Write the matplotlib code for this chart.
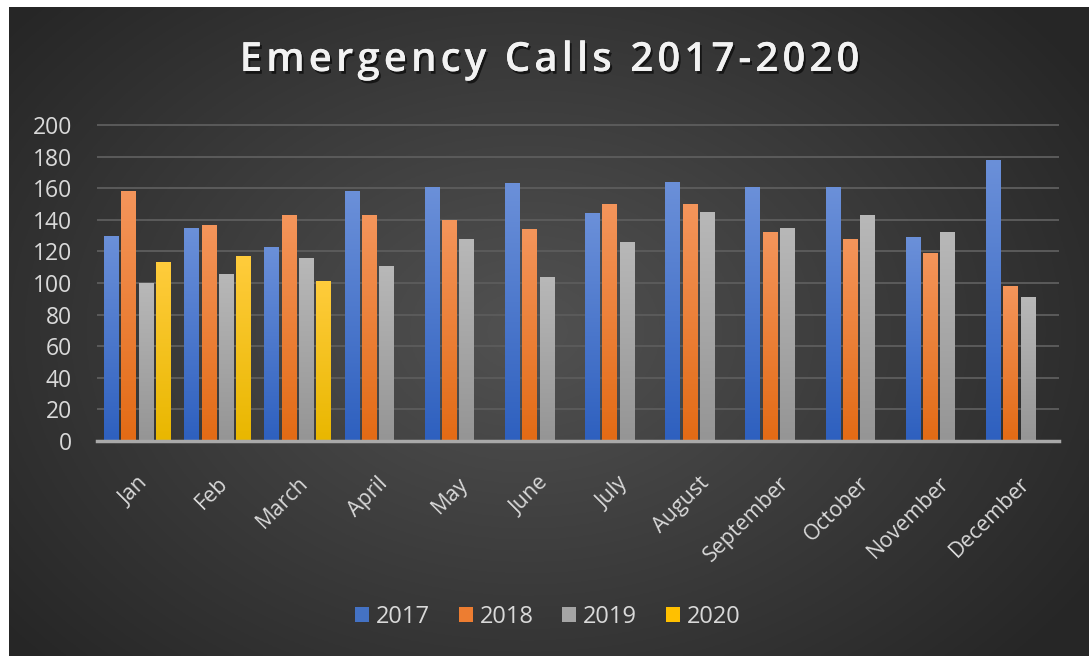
import matplotlib
matplotlib.use("Agg")
import matplotlib.pyplot as plt
import matplotlib.patheffects as pe
from matplotlib.colors import LinearSegmentedColormap
import numpy as np

months = ["Jan", "Feb", "March", "April", "May", "June", "July", "August",
          "September", "October", "November", "December"]
years = ["2017", "2018", "2019", "2020"]
calls_2017 = [130, 135, 123, 158, 161, 163, 144, 164, 161, 161, 129, 178]
calls_2018 = [158, 137, 143, 143, 140, 134, 150, 150, 132, 128, 119, 98]
calls_2019 = [100, 106, 116, 111, 128, 104, 126, 145, 135, 143, 132, 91]
calls_2020 = [113, 117, 101]

# (top colour, bottom colour) of each series gradient
grad = [("#6b90d9", "#2e60bf"),
        ("#f4955b", "#e36b15"),
        ("#b8b8b8", "#959595"),
        ("#ffcc3c", "#e9b700")]
mid = ["#4472c4", "#ed7d31", "#a5a5a5", "#ffc000"]

plt.rcParams['font.family'] = ['Open Sans', 'DejaVu Sans']

W, H = 1089, 656
fig = plt.figure(figsize=(W / 100, H / 100), dpi=100, facecolor="white")

# dark radial background
bg = fig.add_axes([9 / W, 0, 1 - 9 / W, 649 / H])
bg.axis("off")
yy, xx = np.mgrid[0:1:300j, 0:1:500j]
r = np.sqrt(((xx - 0.48) / 0.62) ** 2 + ((yy - 0.5) / 0.75) ** 2)
r = np.clip(r, 0, 1)
shade = 0.32 - 0.17 * r
bg.imshow(np.dstack([shade, shade, shade]), extent=[0, 1, 0, 1], aspect="auto")
bg.set_xlim(0, 1)
bg.set_ylim(0, 1)

ax = fig.add_axes([97 / W, 215 / H, 962 / W, 316 / H])
ax.patch.set_alpha(0)

x = np.arange(len(months))
series = [calls_2017, calls_2018, calls_2019, calls_2020]
bw = 0.175
step = 0.216

yt = np.arange(0, 201, 20)
ax.hlines(yt[1:], -0.5, 11.5, color="#5b5b5b", lw=1.4, zorder=0, clip_on=False)

gy = np.linspace(1, 0, 100).reshape(-1, 1)
for i, vals in enumerate(series):
    xs = x[:len(vals)] + (i - 1.5) * step
    bars = ax.bar(xs, vals, width=bw, color=mid[i], label=years[i], zorder=2)
    cmap = LinearSegmentedColormap.from_list("g%d" % i, [grad[i][1], grad[i][0]])
    for b in bars:
        bx, by = b.get_x(), b.get_y()
        im = ax.imshow(gy, extent=[bx, bx + b.get_width(), by, by + b.get_height()],
                       aspect="auto", cmap=cmap, vmin=0, vmax=1, zorder=3)
        im.set_clip_path(b)

ax.axhline(0, color="#a9a9a9", lw=2.5, zorder=4, clip_on=False)

ax.set_xlim(-0.5, 11.5)
ax.set_ylim(0, 200)
ax.set_aspect("auto")
for s in ax.spines.values():
    s.set_visible(False)

ax.set_yticks(yt)
ax.set_xticks(x)
ax.set_xticklabels(months, rotation=45, ha="right", rotation_mode="anchor")
ax.tick_params(axis="y", length=0, pad=18, labelsize=16.5, labelcolor="#d9d9d9")
ax.tick_params(axis="x", length=0, pad=23, labelsize=15.5, labelcolor="#d9d9d9")

title = "\u200a".join("Emergency Calls 2017-2020")
fig.text(0.504, 0.907, title, ha="center", va="center",
         fontsize=29, fontweight="semibold", color="#f2f2f2",
         path_effects=[pe.withSimplePatchShadow(offset=(1.5, -2), shadow_rgbFace="black", alpha=0.6),
                       pe.Normal()])

leg = fig.legend(loc="center", bbox_to_anchor=(0.503, 0.06), ncol=4, frameon=False,
                 fontsize=17, labelcolor="#d9d9d9", handlelength=0.6, handleheight=0.6,
                 handletextpad=0.3, columnspacing=1.2)

fig.savefig("out.png", dpi=100, facecolor=fig.get_facecolor())
